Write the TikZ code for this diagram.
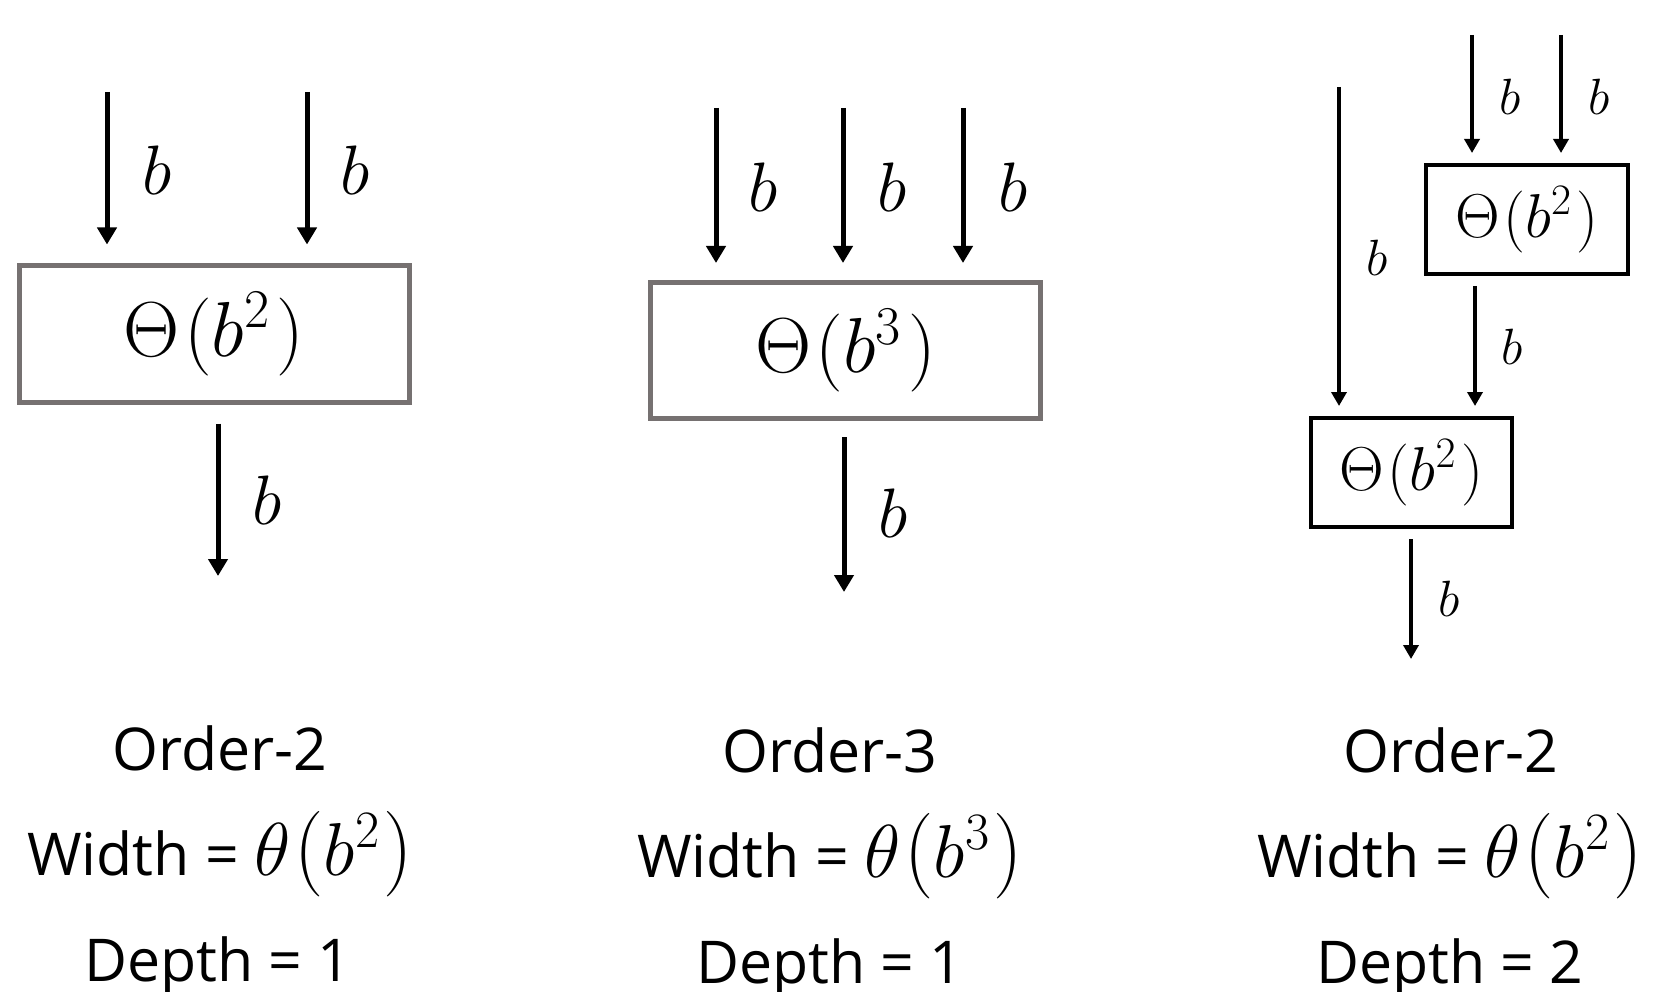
\RequirePackage{fix-cm}
\documentclass[tikz,border=0pt]{standalone}
\usepackage{fontspec}
\usepackage{graphicx}
\setmainfont{Open Sans}
\usetikzlibrary{arrows.meta}
\definecolor{boxgray}{HTML}{767171}
% cost expression inside a block
\newcommand\costexpr[1]{$\Theta\mkern1mu(b^{#1}\mkern1.5mu)$}
% stretched parenthesis for the width formulas
\newcommand\tallparen[1]{\scalebox{1.1}[1.14]{$#1$}}
% width formula below each diagram
\newcommand\widthexpr[1]{{\fontsize{75}{80}\selectfont$\theta\mkern1mu$\tallparen{(}$b^{#1}\mkern1mu$\tallparen{)}}}
\begin{document}
\begin{tikzpicture}[x=1pt,y=-1pt,
  bigarrow/.style={line width=5pt, -{Triangle[width=19pt,length=17pt]}},
  smallarrow/.style={line width=4.5pt, -{Triangle[width=15pt,length=14pt]}},
  graybox/.style={draw=boxgray, line width=5pt, inner sep=0pt,
    minimum width=390pt, minimum height=136pt, font=\fontsize{78}{82}\selectfont},
  blackbox/.style={draw=black, line width=4pt, inner sep=0pt,
    minimum width=202pt, minimum height=109pt, font=\fontsize{62}{66}\selectfont},
  biglabel/.style={inner sep=0pt, font=\fontsize{70}{72}\selectfont},
  smalllabel/.style={inner sep=0pt, font=\fontsize{51}{54}\selectfont},
  caption/.style={anchor=base, inner sep=0pt, font=\fontsize{59}{64}\selectfont},
]
\useasboundingbox (0,0) rectangle (1658,992);

% ---------- order-2, depth 1 ----------
\node[graybox] (box1) at (214,334) {\costexpr{2}};
\coordinate (in1a) at (107,92);
\coordinate (in1b) at (307,92);
\coordinate (out1) at (218,576);
\draw[bigarrow, shorten >=19pt] (in1a) -- (in1a |- box1.north);
\draw[bigarrow, shorten >=19pt] (in1b) -- (in1b |- box1.north);
\draw[bigarrow, shorten <=19pt] (box1.south -| out1) -- (out1);
\node[biglabel] (l1a) at (157,170) {$b$};
\node[biglabel] (l1b) at (355,170) {$b$};
\node[biglabel] (l1c) at (267,500) {$b$};

% ---------- order-3, depth 1 ----------
\node[graybox] (box2) at (845.5,350.5) {\costexpr{3}};
\coordinate (in2a) at (716,108);
\coordinate (in2b) at (843,108);
\coordinate (in2c) at (963,108);
\coordinate (out2) at (844,592);
\draw[bigarrow, shorten >=17pt] (in2a) -- (in2a |- box2.north);
\draw[bigarrow, shorten >=17pt] (in2b) -- (in2b |- box2.north);
\draw[bigarrow, shorten >=17pt] (in2c) -- (in2c |- box2.north);
\draw[bigarrow, shorten <=16pt] (box2.south -| out2) -- (out2);
\node[biglabel] (l2a) at (763,187) {$b$};
\node[biglabel] (l2b) at (892,187) {$b$};
\node[biglabel] (l2c) at (1013,187) {$b$};
\node[biglabel] (l2d) at (893,513) {$b$};

% ---------- two stacked order-2 blocks ----------
\node[blackbox] (box3a) at (1527,219.5) {\costexpr{2}};
\node[blackbox, minimum width=201pt] (box3b) at (1411.5,472.5) {\costexpr{2}};
\coordinate (in3a) at (1472,35);
\coordinate (in3b) at (1561,35);
\coordinate (in3c) at (1339,87);
\coordinate (mid3) at (1475,350);
\coordinate (out3) at (1411,659);
\draw[smallarrow, shorten >=10pt] (in3a) -- (in3a |- box3a.north);
\draw[smallarrow, shorten >=10pt] (in3b) -- (in3b |- box3a.north);
\draw[smallarrow, shorten >=10pt] (in3c) -- (in3c |- box3b.north);
\draw[smallarrow, shorten <=10pt, shorten >=10pt]
  (box3a.south -| mid3) -- (box3b.north -| mid3);
\draw[smallarrow, shorten <=10pt] (box3b.south -| out3) -- (out3);
\node[smalllabel] (l3a) at (1510,97) {$b$};
\node[smalllabel] (l3b) at (1599,97) {$b$};
\node[smalllabel] (l3c) at (1377,258) {$b$};
\node[smalllabel] (l3d) at (1512,347) {$b$};
\node[smalllabel] (l3e) at (1449,599) {$b$};

% ---------- captions ----------
\node[caption] (c1a) at (220,770) {Order-2};
\node[caption] (c1b) at (220,875) {Width = \widthexpr{2}};
\node[caption] (c1c) at (218,981) {Depth = 1};

\node[caption] (c2a) at (830,772) {Order-3};
\node[caption] (c2b) at (830,877) {Width = \widthexpr{3}};
\node[caption] (c2c) at (830,983) {Depth = 1};

\node[caption] (c3a) at (1451,772) {Order-2};
\node[caption] (c3b) at (1450,877) {Width = \widthexpr{2}};
\node[caption] (c3c) at (1450,983) {Depth = 2};
\end{tikzpicture}
\end{document}
